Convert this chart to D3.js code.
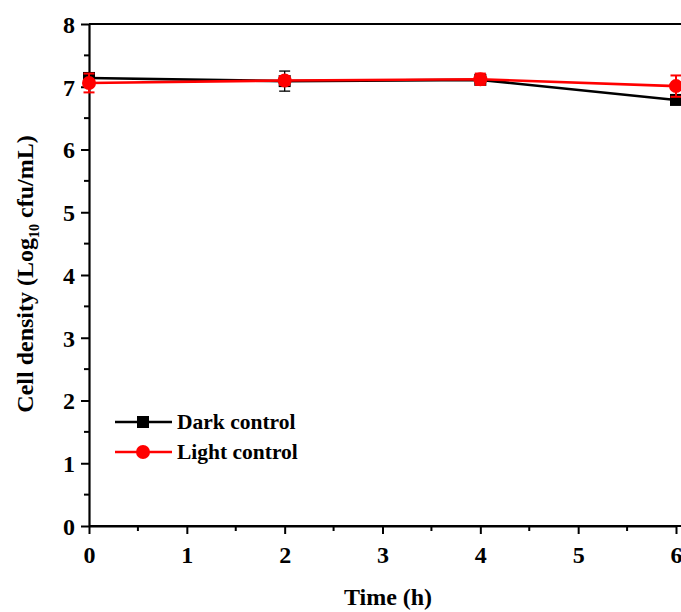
<!DOCTYPE html>
<html>
<head>
<meta charset="utf-8">
<script src="https://cdn.jsdelivr.net/npm/d3@7/dist/d3.min.js"></script>
<style>
  body { margin: 0; background: #fff; }
  text { font-family: "Liberation Serif", "Times New Roman", serif; font-weight: bold; }
</style>
</head>
<body>
<svg id="chart" width="681" height="612"></svg>
<script>
// time points (h)
var times = [0, 2, 4, 6];

// Log10 cfu/mL
var darkVals = [7.14, 7.09, 7.11, 6.79],
    darkErr  = [0.05, 0.16, 0.05, 0.06];
var lightVals = [7.06, 7.10, 7.12, 7.01],
    lightErr  = [0.15, 0.07, 0.09, 0.17];

var xTicks = [0, 1, 2, 3, 4, 5, 6],
    yTicks = [0, 1, 2, 3, 4, 5, 6, 7, 8];

var series = [
    {name: "Dark control", vals: darkVals, err: darkErr, color: "#000", shape: "square", errW: 1.3},
    {name: "Light control", vals: lightVals, err: lightErr, color: "#ff0000", shape: "circle", errW: 2}
];

var svg = d3.select("#chart");

var x = d3.scaleLinear().domain([0, 6]).range([89, 676]),
    y = d3.scaleLinear().domain([0, 8]).range([526, 24]);

var frame = svg.append("g");

// x axis
var xAxis = svg.append("g")
    .attr("transform", "translate(0,526)")
    .call(d3.axisBottom(x).tickValues(xTicks).tickFormat(d3.format("d")).tickSize(8).tickSizeOuter(0));
xAxis.selectAll(".tick text").attr("dy", 0).attr("y", 37);

// minor x ticks
svg.append("g").selectAll("line")
    .data(d3.range(0.5, 6, 1))
    .join("line")
    .attr("x1", d => x(d)).attr("x2", d => x(d))
    .attr("y1", 526).attr("y2", 531)
    .attr("stroke", "#000").attr("stroke-width", 2);

// y axis
var yAxis = svg.append("g")
    .attr("transform", "translate(89,0)")
    .call(d3.axisLeft(y).tickValues(yTicks).tickFormat(d3.format("d")).tickSize(8).tickSizeOuter(0));
yAxis.selectAll(".tick text").attr("x", -14).attr("dy", "0.35em");

svg.append("g").selectAll("line")
    .data(d3.range(0.5, 8, 1))
    .join("line")
    .attr("x1", 84).attr("x2", 89)
    .attr("y1", d => y(d)).attr("y2", d => y(d))
    .attr("stroke", "#000").attr("stroke-width", 2);

svg.selectAll(".domain").attr("stroke", "#000").attr("stroke-width", 2.2);
svg.selectAll(".tick line").attr("stroke", "#000").attr("stroke-width", 2);
svg.selectAll(".tick text").attr("fill", "#000").style("font-size", "24px")
    .style("font-family", '"Liberation Serif", "Times New Roman", serif').style("font-weight", "bold");

// extend box lines past the right edge
frame.append("line").attr("x1", 89).attr("x2", 700).attr("y1", 24).attr("y2", 24)
    .attr("stroke", "#000").attr("stroke-width", 2.2);
frame.append("line").attr("x1", 89).attr("x2", 700).attr("y1", 526).attr("y2", 526)
    .attr("stroke", "#000").attr("stroke-width", 2.2);

var line = d3.line().x(d => x(d.t)).y(d => y(d.v));

function marker(g, shape, color, cx, cy) {
    if (shape === "square") {
        g.append("rect").attr("x", cx - 6).attr("y", cy - 6)
            .attr("width", 12).attr("height", 12).attr("fill", color);
    } else {
        g.append("circle").attr("cx", cx).attr("cy", cy).attr("r", 7).attr("fill", color);
    }
}

series.forEach(function (s) {
    var pts = times.map((t, i) => ({t: t, v: s.vals[i], e: s.err[i]}));
    var g = svg.append("g");

    g.append("path").datum(pts)
        .attr("d", line)
        .attr("fill", "none")
        .attr("stroke", s.color)
        .attr("stroke-width", 2.6);

    // error bars
    pts.forEach(function (p) {
        var px = x(p.t), top = y(p.v + p.e), bot = y(p.v - p.e);
        g.append("line").attr("x1", px).attr("x2", px).attr("y1", top).attr("y2", bot)
            .attr("stroke", s.color).attr("stroke-width", s.errW);
        [top, bot].forEach(function (yy) {
            g.append("line").attr("x1", px - 5.5).attr("x2", px + 5.5).attr("y1", yy).attr("y2", yy)
                .attr("stroke", s.color).attr("stroke-width", s.errW);
        });
        marker(g, s.shape, s.color, px, y(p.v));
    });
});

// legend
var legend = svg.append("g");
series.forEach(function (s, i) {
    var ly = 422 + i * 30;
    legend.append("line").attr("x1", 115).attr("x2", 172).attr("y1", ly).attr("y2", ly)
        .attr("stroke", s.color).attr("stroke-width", 2.6);
    marker(legend, s.shape, s.color, 143, ly);
    legend.append("text").attr("x", 177).attr("y", ly + 7)
        .style("font-size", "21.5px").text(s.name);
});

// axis titles
svg.append("text")
    .attr("x", 388).attr("y", 605)
    .attr("text-anchor", "middle")
    .style("font-size", "24px")
    .text("Time (h)");

var yt = svg.append("text")
    .attr("transform", "translate(33,274) rotate(-90)")
    .attr("text-anchor", "middle")
    .style("font-size", "24px");
yt.append("tspan").text("Cell density (Log");
yt.append("tspan").attr("dy", 6).style("font-size", "14px").text("10");
yt.append("tspan").attr("dy", -6).text(" cfu/mL)");
</script>
</body>
</html>
